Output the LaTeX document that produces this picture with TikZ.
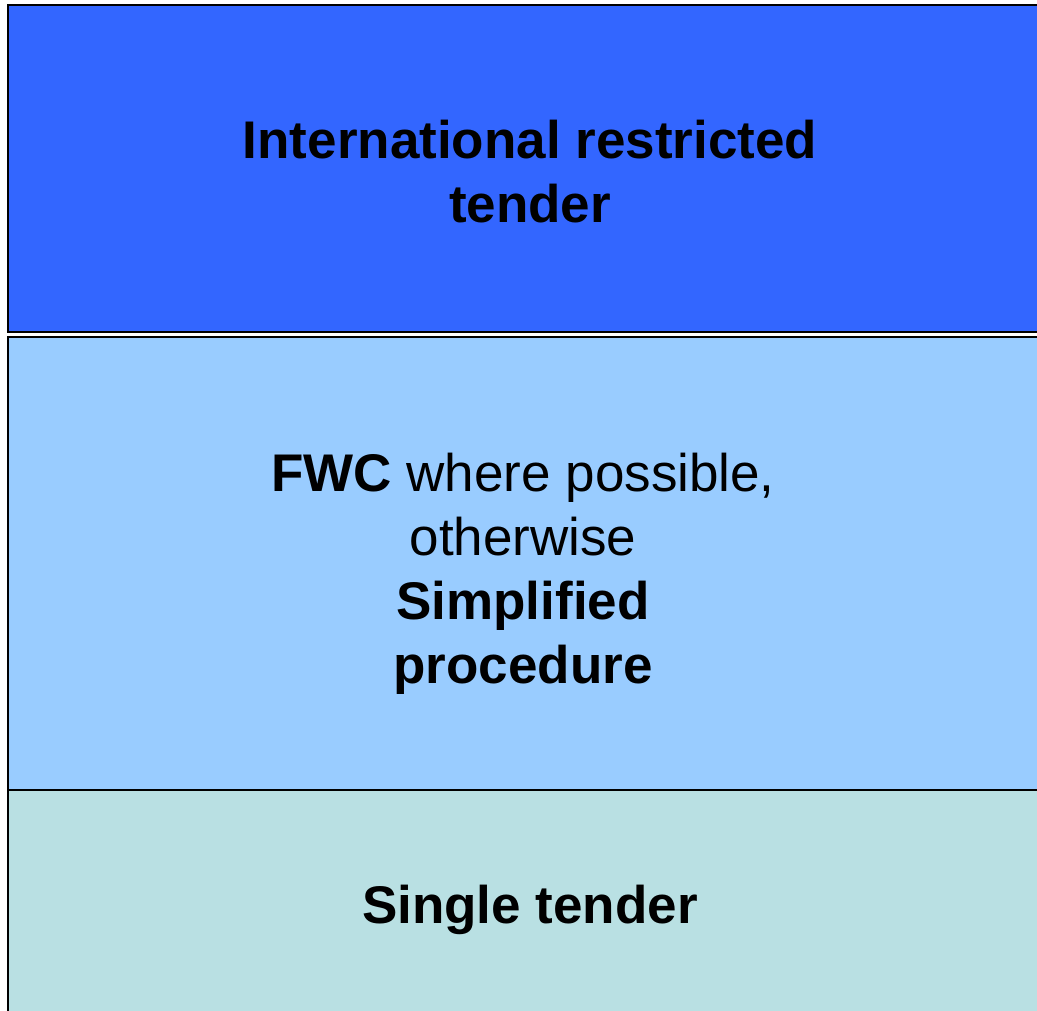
\documentclass[tikz,border=0pt]{standalone}
\usepackage{fontspec}
\setmainfont{Liberation Sans}
\definecolor{topblue}{HTML}{3366FF}
\definecolor{midblue}{HTML}{99CCFF}
\definecolor{lowcyan}{HTML}{B9E0E3}
\begin{document}
\begin{tikzpicture}[x=1pt,y=-1pt,
  band/.style={draw=black,line width=2pt},
  lbl/.style={align=center,font=\fontsize{53}{64}\selectfont,inner sep=0pt}]
\useasboundingbox[fill=white] (0,0) rectangle (1037,1011);
\path[band,fill=topblue] (8,5) rectangle (1045,332);
\path[band,fill=midblue] (8,337) rectangle (1045,790);
\path[band,fill=lowcyan] (8,790) rectangle (1045,1030);
\node[lbl] (t1) at (530,172) {\textbf{International restricted}\\\textbf{tender}};
\node[lbl] (t2) at (523,574) {\textbf{FWC} where possible,\\otherwise\\\textbf{Simplified}\\\textbf{procedure}};
\node[lbl] (t3) at (530,910) {\textbf{Single tender}};
\end{tikzpicture}
\end{document}
